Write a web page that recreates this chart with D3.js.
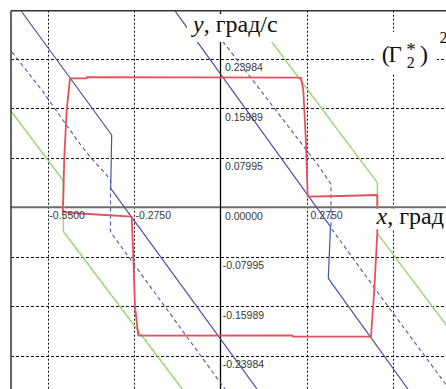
<!DOCTYPE html>
<html><head><meta charset="utf-8">
<script src="https://cdn.jsdelivr.net/npm/d3@7"></script>
<style>html,body{margin:0;padding:0;background:#fff;overflow:hidden}svg{display:block}</style>
</head><body>
<script>
// ---- data ----
const xGrid = [-0.55, -0.275, 0.275, 0.55];
const yGrid = [0.23984, 0.15989, 0.07995, -0.07995, -0.15989, -0.23984];
// x tick labels (0.5500 is hidden under the "x, град" title; 0 shares the y-axis "0.00000" label)
const xTicks = [-0.55, -0.275, 0.275];
const xTickLabels = ["-0.5500", "-0.2750", "0.2750"];
const yTicks = [0.23984, 0.15989, 0.07995, 0, -0.07995, -0.15989, -0.23984];
const yTickLabels = ["0.23984", "0.15989", "0.07995", "0.00000", "-0.07995", "-0.15989", "-0.23984"];

const redLoop = [[-0.4807,0.2082],[-0.4280,0.2082],[-0.4270,0.2100],[0.2571,0.2092],[0.2645,0.1893],
  [0.2731,0.1038],[0.2785,0.0172],[0.3817,0.0183],[0.5008,0.0199],[0.5008,-0.0414],[0.4912,-0.1333],
  [0.4807,-0.2087],[0.2316,-0.2084],[0.2300,-0.2066],[-0.2625,-0.2070],[-0.2731,-0.1603],[-0.2785,-0.0796],
  [-0.2836,-0.0151],[-0.4222,-0.0107],[-0.4912,-0.0086],[-0.5040,-0.0054],[-0.5021,0.0172],
  [-0.4989,0.0817],[-0.4912,0.1571],[-0.4807,0.2082]];

const blueSolidLeft = [[-0.6356,0.3160],[-0.3475,0.1167],[-0.3507,0.0307],[0.1166,-0.2931]];
const blueSolidRight = [[-0.1453,0.3169],[0.3513,-0.0312],[0.3443,-0.1145],[0.5986,-0.2931]];
const blueDashLeft = [[-0.6659,0.2506],[-0.5711,0.1893],[-0.4542,0.1059],[-0.4168,0.0817],[-0.3689,0.0549],
  [-0.3513,0.0441],[-0.3513,-0.0398],[0.0144,-0.2931]];
const blueDashRight = [[-0.0335,0.2942],[0.0121,0.2647],[0.3114,0.0683],[0.3529,0.0377],[0.3529,-0.0333],
  [0.5200,-0.1495],[0.7330,-0.2947]];
const greenLeft = [[-0.6691,0.1555],[-0.5072,0.0469],[-0.5021,0.0409],[-0.5021,-0.0393],[-0.1230,-0.2931]];
const greenRight = [[0.1102,0.3023],[0.1667,0.2647],[0.4967,0.0425],[0.5008,0.0385],[0.5008,-0.0419],[0.7330,-0.1979]];
const greenLeftB = [[-0.6660,0.1520],[-0.5040,0.0440],[-0.5005,0.0400],[-0.5005,-0.0380],[-0.1180,-0.2940]];
const greenRightB = [[0.1140,0.3023],[0.1700,0.2640],[0.4990,0.0420],[0.5025,0.0385],[0.5025,-0.0430],[0.7370,-0.2000]];

// ---- layout ----
const W = 446, H = 389;
const frameL = 11, frameT = 10.7;
const x = d3.scaleLinear().domain([-0.55, 0.55]).range([48.3, 392.7]);
const y = d3.scaleLinear().domain([-0.23984, 0.23984]).range([356, 58.7]);

const svg = d3.select("body").append("svg").attr("width", W).attr("height", H);
svg.append("rect").attr("width", W).attr("height", H).attr("fill", "#fff");
svg.append("clipPath").attr("id", "clip").append("rect")
  .attr("x", frameL).attr("y", frameT).attr("width", W - frameL).attr("height", H - frameT);
const plot = svg.append("g").attr("clip-path", "url(#clip)");

// gridlines
plot.selectAll("line.vg").data(xGrid).join("line")
  .attr("x1", d => Math.round(x(d)) + 0.5).attr("x2", d => Math.round(x(d)) + 0.5)
  .attr("y1", frameT).attr("y2", H)
  .attr("stroke", "#111").attr("stroke-width", 1).attr("stroke-dasharray", "2,2");
plot.selectAll("line.hg").data(yGrid).join("line")
  .attr("y1", d => Math.round(y(d)) + 0.5).attr("y2", d => Math.round(y(d)) + 0.5)
  .attr("x1", frameL).attr("x2", W)
  .attr("stroke", "#111").attr("stroke-width", 1).attr("stroke-dasharray", "3,2");

// axes
plot.append("line").attr("x1", frameL).attr("x2", W).attr("y1", y(0)).attr("y2", y(0))
  .attr("stroke", "#6e6e6e").attr("stroke-width", 2);
plot.append("line").attr("x1", x(0)).attr("x2", x(0)).attr("y1", frameT).attr("y2", H)
  .attr("stroke", "#000").attr("stroke-width", 1.3);

// tick labels
const tickFont = "'Liberation Sans', Arial, sans-serif";
svg.selectAll("text.xt").data(xTicks).join("text")
  .attr("x", (d, i) => x(d) + (xTickLabels[i].startsWith("-") ? 1 : 4))
  .attr("y", y(0) + 11.3)
  .attr("font-family", tickFont).attr("font-size", 10.5).attr("fill", "#383838")
  .text((d, i) => xTickLabels[i]);
svg.selectAll("text.yt").data(yTicks).join("text")
  .attr("x", (d, i) => x(0) + (yTickLabels[i].startsWith("-") ? 2.2 : 4.4))
  .attr("y", d => y(d) + 12.3)
  .attr("font-family", tickFont).attr("font-size", 10.5).attr("fill", "#383838")
  .text((d, i) => yTickLabels[i]);

// curves
const line = d3.line().x(d => x(d[0])).y(d => y(d[1]));
function draw(data, color, width, dash) {
  plot.append("path").attr("d", line(data)).attr("fill", "none")
    .attr("stroke", color).attr("stroke-width", width)
    .attr("stroke-dasharray", dash || null).attr("stroke-linejoin", "round");
}
draw(greenLeftB, "#c4e6ad", 1.1, "4,2");
draw(greenRightB, "#c4e6ad", 1.1, "4,2");
draw(greenLeft, "#93d46e", 1.2);
draw(greenRight, "#93d46e", 1.2);
draw(blueDashLeft, "#4a58b0", 1.1, "4,3");
draw(blueDashRight, "#4a58b0", 1.1, "4,3");
draw(blueSolidLeft, "#4453a8", 1.2);
draw(blueSolidRight, "#4453a8", 1.2);
draw(redLoop, "#e4505e", 1.8);

// label boxes and titles
const serif = "'Liberation Serif', 'Times New Roman', serif";
svg.append("rect").attr("x", 187).attr("y", 14).attr("width", 95).attr("height", 28).attr("fill", "#fff");
const yl = svg.append("text").attr("x", 193).attr("y", 32).attr("font-family", serif).attr("font-size", 24).attr("fill", "#111");
yl.append("tspan").attr("font-style", "italic").text("y");
yl.append("tspan").text(", град/с");

svg.append("rect").attr("x", 374).attr("y", 208.8).attr("width", 72).attr("height", 20.5).attr("fill", "#fff");
const xl = svg.append("text").attr("x", 376.5).attr("y", 223.5).attr("font-family", serif).attr("font-size", 24).attr("fill", "#111");
xl.append("tspan").attr("font-style", "italic").text("x");
xl.append("tspan").text(", град");

svg.append("rect").attr("x", 374).attr("y", 32).attr("width", 63).attr("height", 41).attr("fill", "#fff");
const g2 = svg.append("text").attr("font-family", serif).attr("fill", "#111");
g2.append("tspan").attr("x", 381.7).attr("y", 62).attr("font-size", 24).text("(");
g2.append("tspan").attr("x", 388.5).attr("y", 62).attr("font-size", 23).text("Γ");
g2.append("tspan").attr("x", 406.2).attr("y", 56).attr("font-size", 19).text("*");
g2.append("tspan").attr("x", 406.7).attr("y", 68).attr("font-size", 16).text("2");
g2.append("tspan").attr("x", 420).attr("y", 62).attr("font-size", 24).text(")");
g2.append("tspan").attr("x", 439.5).attr("y", 43.3).attr("font-size", 16).text("2");

// frame
svg.append("line").attr("x1", frameL).attr("x2", W).attr("y1", frameT).attr("y2", frameT)
  .attr("stroke", "#333").attr("stroke-width", 1.5);
svg.append("line").attr("x1", frameL).attr("x2", frameL).attr("y1", frameT).attr("y2", H)
  .attr("stroke", "#333").attr("stroke-width", 1.5);
</script>
</body></html>
